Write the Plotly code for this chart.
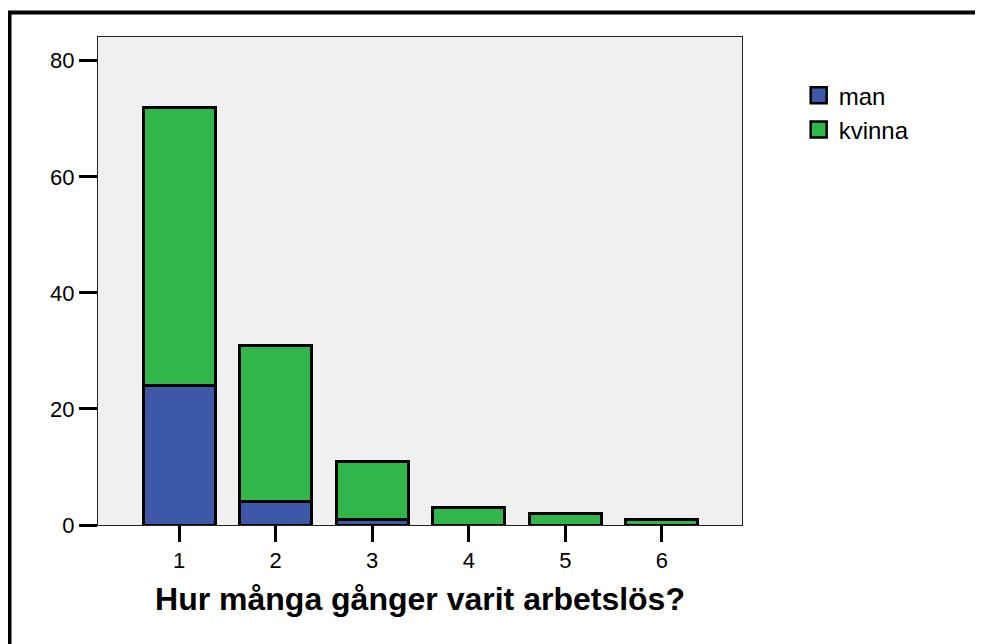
import plotly.graph_objects as go

categories = [1, 2, 3, 4, 5, 6]
man = [24, 4, 1, 0, 0, 0]
kvinna = [48, 27, 10, 3, 2, 1]
series_names = ["man", "kvinna"]
y_ticks = [0, 20, 40, 60, 80]

BLUE = "#3E58A8"
GREEN = "#31B64A"

fig = go.Figure()
for name, vals, col in [(series_names[0], man, BLUE), (series_names[1], kvinna, GREEN)]:
    fig.add_trace(go.Bar(
        x=categories, y=vals, name=name, width=0.745,
        marker=dict(color=col, line=dict(color="black", width=3)),
        showlegend=False,
    ))
# legend entries with larger square symbols
for name, col in [(series_names[0], BLUE), (series_names[1], GREEN)]:
    fig.add_trace(go.Scatter(
        x=[None], y=[None], mode="markers", name=name,
        marker=dict(symbol="square", size=19, color=col, line=dict(color="black", width=2.5)),
    ))

# page has an 8px body margin, so figure coords = page coords - 8
W, H = 975, 636
L, T = 90, 29
R = W - 734
B = H - 517.5
fig.update_layout(
    width=W, height=H,
    barmode="stack",
    paper_bgcolor="white",
    plot_bgcolor="#F0F0F0",
    margin=dict(l=L, r=R, t=T, b=B, pad=0),
    font=dict(family="Liberation Sans, Arial, sans-serif", color="black", size=22),
    legend=dict(x=1.088, y=0.926, xanchor="left", yanchor="top",
                traceorder="normal",
                font=dict(size=24), bgcolor="rgba(0,0,0,0)", tracegroupgap=0,
                itemsizing="trace"),
    xaxis=dict(
        range=[0.16, 6.83], tickvals=categories, ticktext=[str(c) for c in categories],
        ticks="outside", ticklen=16, tickwidth=3, tickcolor="black",
        showline=True, linecolor="#222", linewidth=1, mirror=True,
        showgrid=False, zeroline=False,
        title=dict(text="<b>Hur många gånger varit arbetslös?</b>",
                   font=dict(size=32), standoff=15),
    ),
    yaxis=dict(
        range=[0, 84.1], tickvals=y_ticks,
        ticks="outside", ticklen=18, tickwidth=3, tickcolor="black",
        showline=True, linecolor="#222", linewidth=1, mirror=True,
        showgrid=False, zeroline=False,
    ),
)

pw = W - L - R
ph = H - T - B
def px(x): return (x - L) / pw
def py(y): return (H - B - y) / ph

fig.add_shape(type="line", xref="paper", yref="paper",
              x0=px(1.5), x1=px(1.5), y0=py(3), y1=py(660),
              line=dict(color="black", width=4))
fig.add_shape(type="line", xref="paper", yref="paper",
              x0=px(-0.5), x1=px(1000), y0=py(4.5), y1=py(4.5),
              line=dict(color="black", width=4))

fig.write_html("out.html")
